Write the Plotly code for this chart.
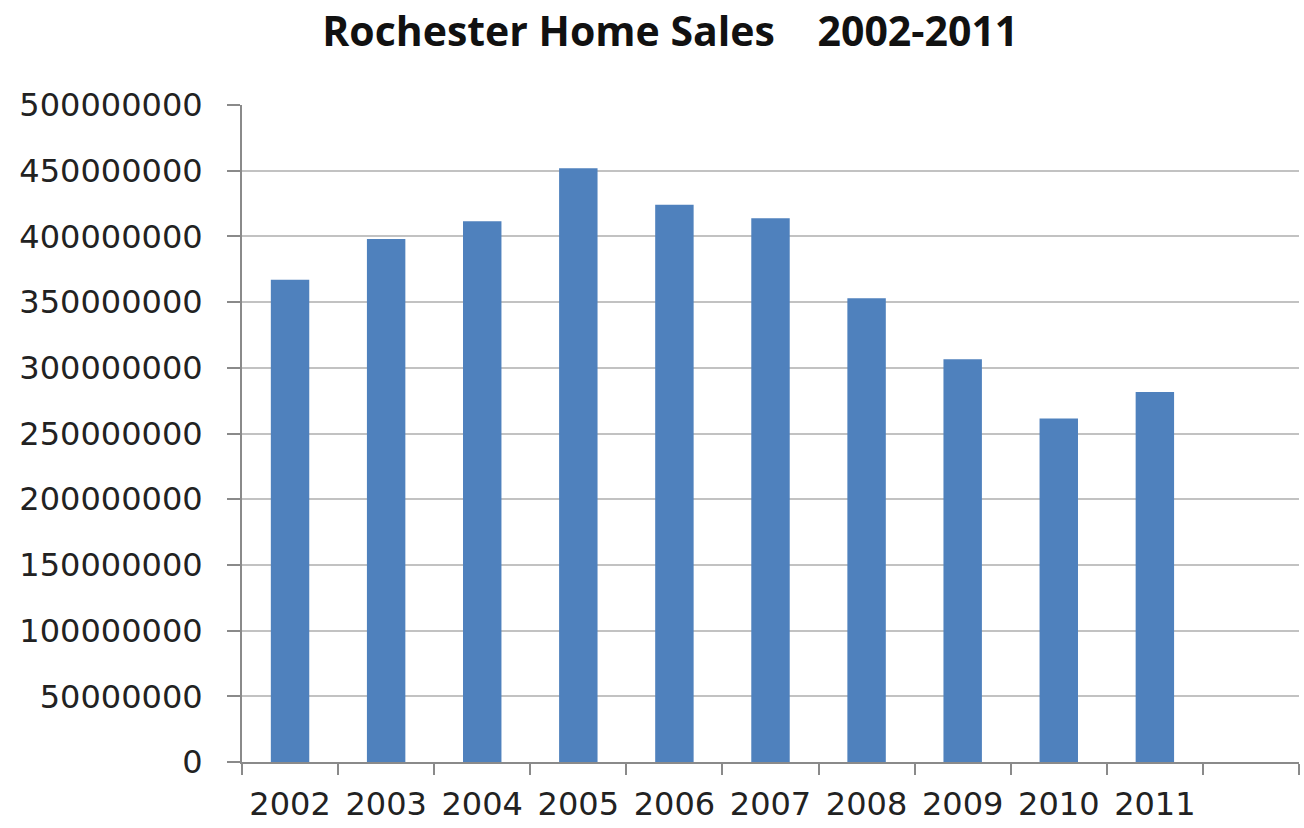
import plotly.graph_objects as go

# Annual home sales totals, Rochester
years = [2002, 2003, 2004, 2005, 2006, 2007, 2008, 2009, 2010, 2011]
sales = [367000000, 398000000, 411500000, 451800000, 424000000,
         413800000, 353000000, 306500000, 261500000, 281500000]
year_labels = [str(y) for y in years]

y_max = 500000000
y_step = 50000000

# one spare slot after the last year, as in the original sheet
slot_edges = [y - 0.5 for y in years] + [years[-1] + 0.5, years[-1] + 1.5]

axis_grey = "#8a8a8a"
grid_grey = "#c2c2c2"
text_col = "#222222"
font_family = "DejaVu Sans, Verdana, sans-serif"

fig = go.Figure(
    go.Bar(
        x=years,
        y=sales,
        marker=dict(color="#4f81bd", line=dict(width=0)),
        width=0.4,
        hoverinfo="x+y",
    )
)

fig.update_layout(
    width=1304,
    height=828,
    margin=dict(l=242, r=5, t=105, b=60),
    paper_bgcolor="white",
    plot_bgcolor="white",
    showlegend=False,
    title=dict(
        text="<b>Rochester Home Sales\u00a0\u00a0\u00a0 2002-2011</b>",
        font=dict(family="Open Sans, Liberation Sans, sans-serif", size=41, color="#111111"),
        x=0.514,
        xanchor="center",
        xref="container",
        y=0.962,
        yanchor="middle",
        yref="container",
    ),
    font=dict(family=font_family, color=text_col),
)

fig.update_xaxes(
    range=[slot_edges[0], slot_edges[-1]],
    tickmode="array",
    tickvals=years,
    ticktext=year_labels,
    ticks="",
    ticklabelstandoff=13,
    tickfont=dict(size=32, family=font_family, color=text_col),
    showline=True,
    linecolor=axis_grey,
    linewidth=2,
    showgrid=False,
    zeroline=False,
    minor=dict(
        tickmode="array",
        tickvals=slot_edges,
        ticks="outside",
        ticklen=11,
        tickwidth=2,
        tickcolor=axis_grey,
        showgrid=False,
    ),
)

fig.update_yaxes(
    range=[0, y_max],
    tick0=0,
    dtick=y_step,
    tickformat="d",
    ticks="outside",
    ticklen=13,
    tickwidth=2,
    tickcolor=axis_grey,
    ticklabelstandoff=18,
    tickfont=dict(size=32, family=font_family, color=text_col),
    showline=True,
    linecolor=axis_grey,
    linewidth=2,
    showgrid=True,
    gridcolor=grid_grey,
    gridwidth=2,
    zeroline=False,
)

fig.write_html("out.html")
